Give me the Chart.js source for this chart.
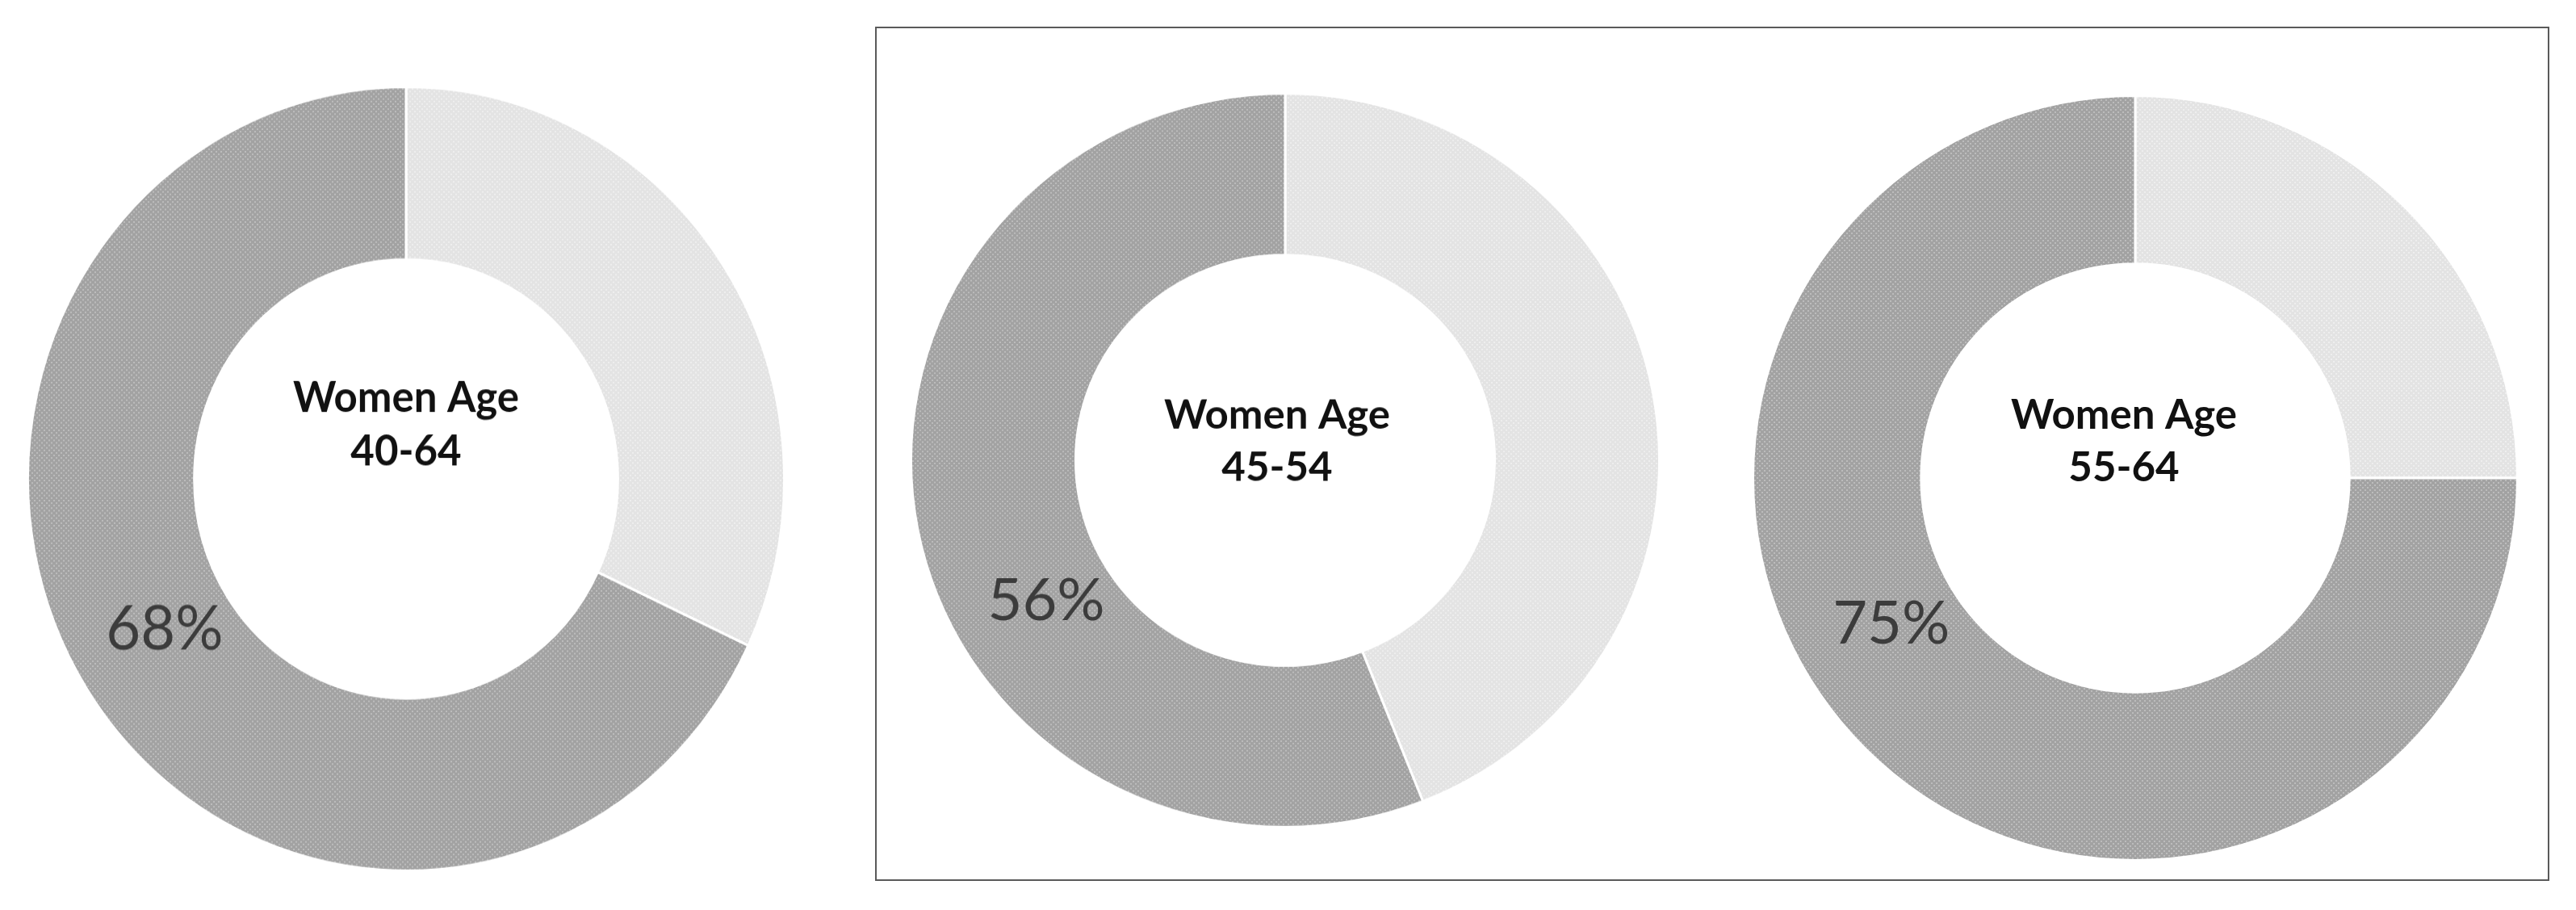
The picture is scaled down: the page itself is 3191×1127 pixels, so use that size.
<!DOCTYPE html>
<html>
<head>
<meta charset="utf-8">
<script src="https://cdn.jsdelivr.net/npm/chart.js@4.4.1/dist/chart.umd.min.js"></script>
<style>
  html, body { margin: 0; padding: 0; background: #fff; }
  body { width: 3191px; height: 1127px; position: relative; overflow: hidden; }
  .box { position: absolute; left: 1084px; top: 33px; width: 2070px; height: 1054px; border: 2px solid #5a5a5a; }
  .donut { position: absolute; transform-origin: 50% 50%; }
</style>
</head>
<body>
<div class="box"></div>
<div class="donut" id="d1"><canvas id="c1"></canvas></div>
<div class="donut" id="d2"><canvas id="c2"></canvas></div>
<div class="donut" id="d3"><canvas id="c3"></canvas></div>
<script>
// values
var groupTitle = ["Women Age", "Women Age", "Women Age"];
var ageRanges = ["40-64", "45-54", "55-64"];
var sliceNames = ["Other", "Women"];
var otherPct = [32, 44, 25];
var shownPct = [68, 56, 75];

// page layout: centre x, centre y, radius, vertical stretch (the source image is a bit uneven)
var spots = [
  [503, 593, 468, 1.036],
  [1592, 570, 463, 0.98],
  [2645, 592, 473, 1]
];
// centre text nudges: x, first line y, second line y
var textNudge = [
  [0, -96, -32],
  [-10, -56, 10],
  [-14, -77, -12]
];

function dots(base, dot) {
  var c = document.createElement("canvas");
  c.width = 6; c.height = 6;
  var g = c.getContext("2d");
  g.fillStyle = base;
  g.fillRect(0, 0, 6, 6);
  g.fillStyle = dot;
  g.fillRect(0, 0, 2, 2);
  g.fillRect(3, 3, 2, 2);
  return g.createPattern(c, "repeat");
}

var lightFill = dots("#e3e3e3", "#eeeeee");
var darkFill = dots("#a2a2a2", "#bcbcbc");

// percent label on the dark slice, at a fixed angle like the original
var pctLabel = {
  id: "pctLabel",
  afterDatasetsDraw: function (chart) {
    var arc = chart.getDatasetMeta(0).data[1];
    var p = arc.getProps(["x", "y", "innerRadius", "outerRadius"], true);
    var r = p.innerRadius + 0.42 * (p.outerRadius - p.innerRadius);
    var a = (239 - 90) * Math.PI / 180;
    var ctx = chart.ctx;
    ctx.save();
    ctx.font = "74px Lato";
    ctx.fillStyle = "#3c3c3c";
    ctx.textAlign = "center";
    ctx.textBaseline = "middle";
    ctx.fillText(chart.data.datasets[0].data[1] + "%", p.x + r * Math.cos(a), p.y + r * Math.sin(a));
    ctx.restore();
  }
};

var centerText = {
  id: "centerText",
  afterDatasetsDraw: function (chart, args, opts) {
    var arc = chart.getDatasetMeta(0).data[0];
    var n = opts.nudge;
    var ctx = chart.ctx;
    ctx.save();
    ctx.font = "bold 51px Lato";
    ctx.fillStyle = "#111";
    ctx.textAlign = "center";
    ctx.textBaseline = "middle";
    ctx.fillText(opts.lines[0], arc.x + n[0], arc.y + n[1]);
    ctx.fillText(opts.lines[1], arc.x + n[0], arc.y + n[2]);
    ctx.restore();
  }
};

for (var i = 0; i < 3; i++) {
  var s = spots[i];
  var box = document.getElementById("d" + (i + 1));
  box.style.left = (s[0] - s[2] - 2) + "px";
  box.style.top = (s[1] - s[2] - 2) + "px";
  box.style.width = (2 * s[2] + 4) + "px";
  box.style.height = (2 * s[2] + 4) + "px";
  box.style.transform = "scaleY(" + s[3] + ")";

  new Chart(document.getElementById("c" + (i + 1)), {
    type: "doughnut",
    data: {
      labels: sliceNames,
      datasets: [{
        data: [otherPct[i], shownPct[i]],
        backgroundColor: [lightFill, darkFill],
        borderColor: "#ffffff",
        borderWidth: 3
      }]
    },
    options: {
      responsive: true,
      maintainAspectRatio: false,
      animation: false,
      events: [],
      cutout: "56%",
      layout: { padding: 0 },
      plugins: {
        legend: { display: false },
        tooltip: { enabled: false },
        centerText: { lines: [groupTitle[i], ageRanges[i]], nudge: textNudge[i] }
      }
    },
    plugins: [pctLabel, centerText]
  });
}
</script>
</body>
</html>
